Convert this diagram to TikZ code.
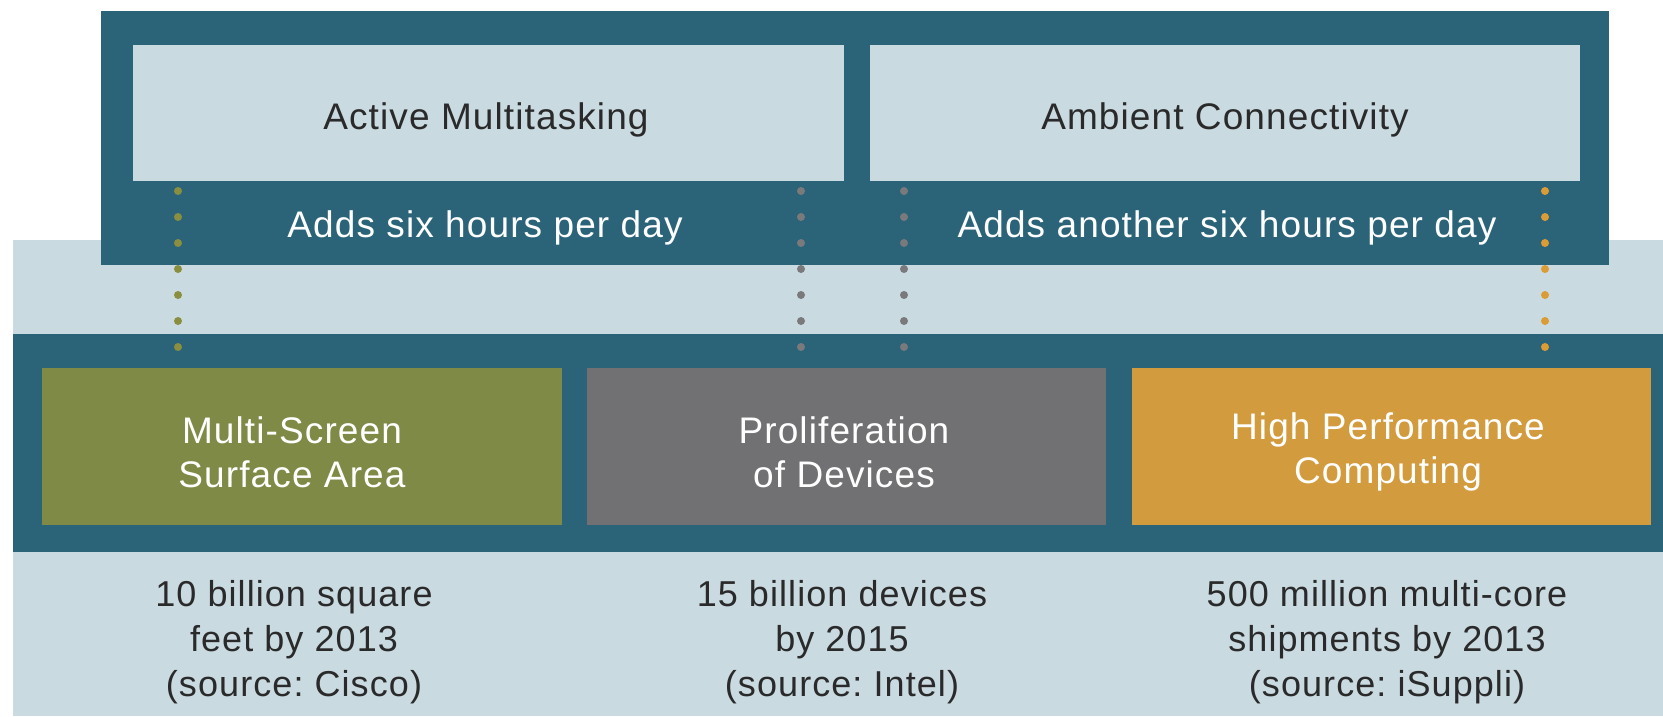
\documentclass[tikz,border=0pt]{standalone}
\usepackage{fontspec}
\setmainfont[LetterSpace=3]{Liberation Sans}
\frenchspacing
\definecolor{cdark}{HTML}{2B6478}
\definecolor{clight}{HTML}{C9DAE1}
\definecolor{cgreen}{HTML}{7F8A46}
\definecolor{cgray}{HTML}{717173}
\definecolor{corange}{HTML}{D29B3D}
\definecolor{cgreendot}{HTML}{8A8F3F}
\definecolor{cgraydot}{HTML}{7A7A7C}
\definecolor{corangedot}{HTML}{DB9B35}
\definecolor{ctext}{HTML}{2A2A2A}
\tikzset{
  plate/.style={inner sep=0pt, outer sep=0pt, draw=none},
  lbl/.style={font=\fontsize{37}{44}\selectfont, align=center, inner sep=0pt},
  captxt/.style={font=\fontsize{36}{45}\selectfont, align=center, inner sep=0pt, text=ctext},
  dotline/.style={line width=8pt, line cap=round, dash pattern=on 0pt off 26pt},
}
\begin{document}
\begin{tikzpicture}[x=1pt,y=-1pt]
\useasboundingbox (0,0) rectangle (1663,716);
\fill[white] (0,0) rectangle (1663,716);
% light background
\node[plate, fill=clight, minimum width=1650pt, minimum height=476pt] (bg) at (838,478) {};
% top dark frame
\node[plate, fill=cdark, minimum width=1508pt, minimum height=254pt] (top) at (855,138) {};
\node[plate, fill=clight, minimum width=711pt, minimum height=136pt] (am) at (488.5,113) {};
\node[plate, fill=clight, minimum width=710pt, minimum height=136pt] (ac) at (1225,113) {};
\node[lbl, text=ctext] (amt) at (486,120) {Active Multitasking};
\node[lbl, text=ctext] (act) at (1225,120) {Ambient Connectivity};
\node[lbl, text=white] (add1) at (485,228) {Adds six hours per day};
\node[lbl, text=white] (add2) at (1227,228) {Adds another six hours per day};
% bottom band
\node[plate, fill=cdark, minimum width=1650pt, minimum height=218pt] (band) at (838,443) {};
\node[plate, fill=cgreen, minimum width=520pt, minimum height=157pt] (ms) at (302,446.5) {};
\node[plate, fill=cgray, minimum width=519pt, minimum height=157pt] (pd) at (846.5,446.5) {};
\node[plate, fill=corange, minimum width=519pt, minimum height=157pt] (hp) at (1391.5,446.5) {};
\node[lbl, text=white] (mst) at (292,452) {Multi-Screen\\Surface Area};
\node[lbl, text=white] (pdt) at (844,452) {Proliferation\\of Devices};
\node[lbl, text=white] (hpt) at (1388,452) {High Performance\\Computing};
% captions
\node[captxt] (c1) at (294,642) {10 billion square\\feet by 2013\\(source: Cisco)};
\node[captxt] (c2) at (842,642) {15 billion devices\\by 2015\\(source: Intel)};
\node[captxt] (c3) at (1387,642) {500 million multi-core\\shipments by 2013\\(source: iSuppli)};
% dotted connectors
\coordinate (g1) at (178,191); \coordinate (g2) at (178,348);
\coordinate (p1) at (801,191); \coordinate (p2) at (801,348);
\coordinate (q1) at (904,191); \coordinate (q2) at (904,348);
\coordinate (o1) at (1545,191); \coordinate (o2) at (1545,348);
\draw[dotline, cgreendot] (g1) -- (g2);
\draw[dotline, cgraydot] (p1) -- (p2);
\draw[dotline, cgraydot] (q1) -- (q2);
\draw[dotline, corangedot] (o1) -- (o2);
\end{tikzpicture}
\end{document}
